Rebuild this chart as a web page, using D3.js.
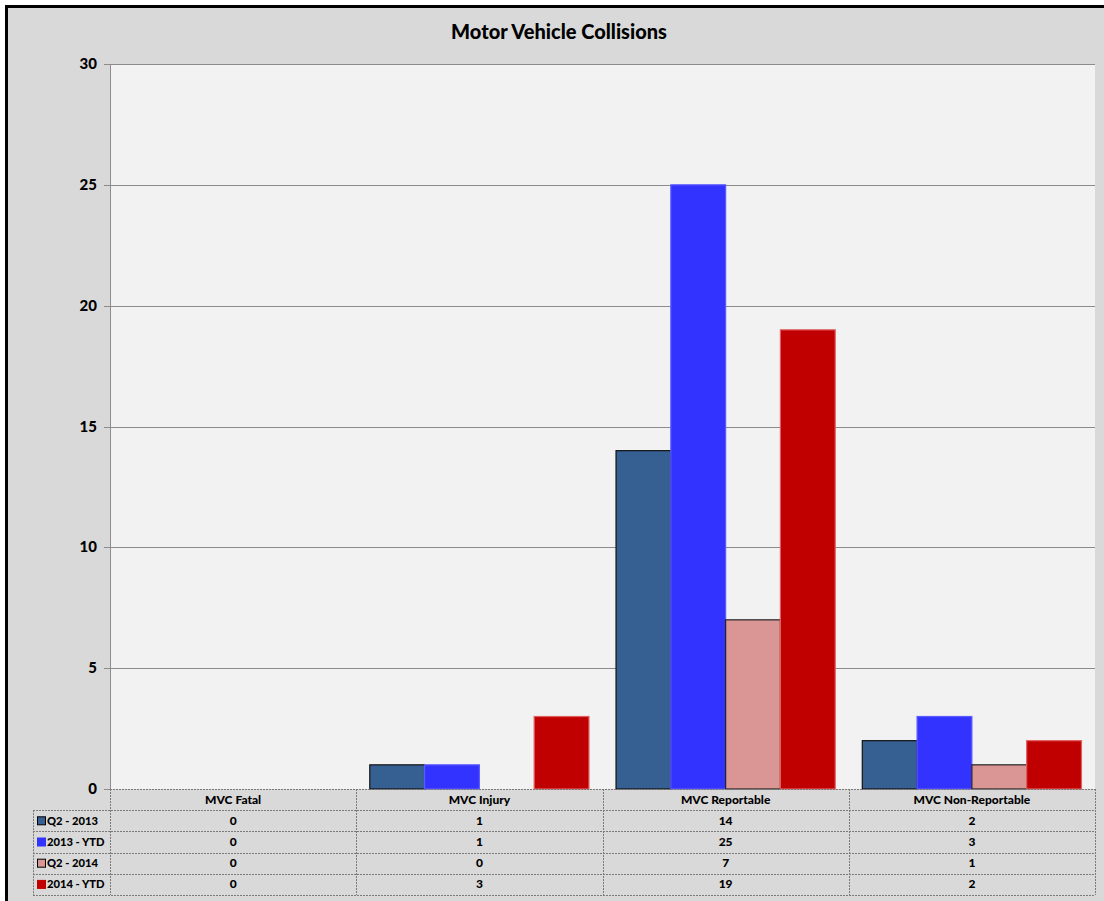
<!DOCTYPE html>
<html>
<head>
<meta charset="utf-8">
<script src="https://cdn.jsdelivr.net/npm/d3@7"></script>
<style>
  html, body { margin: 0; background: #d9d9d9; overflow: hidden; }
  svg { display: block; }
  svg text { font-family: Lato, "Open Sans", sans-serif; font-weight: 900; fill: #000; }
</style>
</head>
<body>
<div id="grafico"></div>
<script>
const categories = ["MVC Fatal", "MVC Injury", "MVC Reportable", "MVC Non-Reportable"];
const seriesNames = ["Q2 - 2013", "2013 - YTD", "Q2 - 2014", "2014 - YTD"];
const q2_2013 = [0, 1, 14, 2];
const ytd_2013 = [0, 1, 25, 3];
const q2_2014 = [0, 0, 7, 1];
const ytd_2014 = [0, 3, 19, 2];
const yTicks = [0, 5, 10, 15, 20, 25, 30];

const seriesValues = [q2_2013, ytd_2013, q2_2014, ytd_2014];
const fills = ["#366092", "#3333ff", "#da9694", "#c00000"];
const strokes = ["#111", "#5a5aff", "#222", "#e06060"];

const width = 1104, height = 901;
const plot = { left: 110, top: 64, right: 1095, bottom: 789 };
const rowH = 21.2;

const svg = d3.select('#grafico').append('svg')
    .attr('width', width)
    .attr('height', height);

// page white outside the frame, chart area grey
svg.append('rect')
    .attr('width', width).attr('height', height)
    .attr('fill', '#fff');
svg.append('rect')
    .attr('x', 5).attr('y', 5)
    .attr('width', width - 5).attr('height', height - 5)
    .attr('fill', '#d9d9d9');

// frame: only top and left edges are inside the picture
svg.append('path')
    .attr('d', 'M6.5,' + height + 'V6.5H' + width)
    .attr('fill', 'none')
    .attr('stroke', '#000')
    .attr('stroke-width', 3);

svg.append('text')
    .attr('x', 559).attr('y', 39)
    .attr('text-anchor', 'middle')
    .style('font-size', '20px')
    .text('Motor Vehicle Collisions');

// plot background
svg.append('rect')
    .attr('x', plot.left).attr('y', plot.top)
    .attr('width', plot.right - plot.left)
    .attr('height', plot.bottom - plot.top)
    .attr('fill', '#f2f2f2');

let y = d3.scaleLinear()
    .domain([0, 30])
    .range([plot.bottom, plot.top]);

let x0 = d3.scaleBand()
    .domain(categories)
    .range([plot.left, plot.right]);

const bw = x0.bandwidth();
let x1 = d3.scaleBand()
    .domain(seriesNames)
    .range([bw * 0.055, bw * 0.945]);

// gridlines
svg.append('g')
    .selectAll('line')
    .data(yTicks.filter(t => t > 0))
    .enter()
    .append('line')
    .attr('x1', plot.left - 6)
    .attr('x2', plot.right)
    .attr('y1', d => Math.round(y(d)) + 0.5)
    .attr('y2', d => Math.round(y(d)) + 0.5)
    .attr('stroke', '#8c8c8c')
    .attr('stroke-width', 1);

svg.append('line')
    .attr('x1', plot.left + 0.5).attr('x2', plot.left + 0.5)
    .attr('y1', plot.top).attr('y2', plot.bottom)
    .attr('stroke', '#8c8c8c');

svg.append('line')
    .attr('x1', plot.left - 6).attr('x2', plot.left)
    .attr('y1', plot.bottom + 0.5).attr('y2', plot.bottom + 0.5)
    .attr('stroke', '#8c8c8c');

svg.append('g')
    .selectAll('text')
    .data(yTicks)
    .enter()
    .append('text')
    .attr('x', 97)
    .attr('y', d => y(d) + 5)
    .attr('text-anchor', 'end')
    .style('font-size', '15px')
    .text(d => d);

// bars
let groups = svg.append('g')
    .selectAll('g')
    .data(categories)
    .enter()
    .append('g')
    .attr('transform', d => 'translate(' + x0(d) + ',0)');

groups.selectAll('rect')
    .data((c, ci) => seriesNames.map((s, si) => ({ s: s, si: si, v: seriesValues[si][ci] })))
    .enter()
    .filter(d => d.v > 0)
    .append('rect')
    .attr('x', d => x1(d.s))
    .attr('y', d => y(d.v))
    .attr('width', x1.bandwidth())
    .attr('height', d => y(0) - y(d.v))
    .attr('fill', d => fills[d.si])
    .attr('stroke', d => strokes[d.si])
    .attr('stroke-width', 1.2);

// data table
const legendLeft = 33;
const tableBottom = plot.bottom + rowH * 5;
const dash = '2,1';

let table = svg.append('g').attr('stroke', '#7a7a7a').attr('stroke-dasharray', dash);

// horizontal lines
table.selectAll('line.h')
    .data(d3.range(1, 6))
    .enter()
    .append('line')
    .attr('x1', legendLeft)
    .attr('x2', plot.right)
    .attr('y1', i => Math.round(plot.bottom + i * rowH) + 0.5)
    .attr('y2', i => Math.round(plot.bottom + i * rowH) + 0.5);

table.append('line')
    .attr('x1', plot.left).attr('x2', plot.right)
    .attr('y1', plot.bottom + 0.5).attr('y2', plot.bottom + 0.5);

// vertical lines
table.selectAll('line.v')
    .data(categories.map(c => x0(c)).concat([plot.right]))
    .enter()
    .append('line')
    .attr('x1', d => Math.round(d) + 0.5)
    .attr('x2', d => Math.round(d) + 0.5)
    .attr('y1', plot.bottom)
    .attr('y2', tableBottom);

table.append('line')
    .attr('x1', legendLeft + 0.5).attr('x2', legendLeft + 0.5)
    .attr('y1', plot.bottom + rowH).attr('y2', tableBottom);

// header labels
svg.append('g')
    .selectAll('text')
    .data(categories)
    .enter()
    .append('text')
    .attr('x', d => x0(d) + bw / 2)
    .attr('y', plot.bottom + rowH / 2 + 4)
    .attr('text-anchor', 'middle')
    .style('font-size', '12px')
    .text(d => d);

// rows
let rows = svg.append('g')
    .selectAll('g')
    .data(seriesNames)
    .enter()
    .append('g')
    .attr('transform', (d, i) => 'translate(0,' + (plot.bottom + (i + 1) * rowH) + ')');

rows.append('rect')
    .attr('x', legendLeft + 4.5)
    .attr('y', rowH / 2 - 4)
    .attr('width', 8)
    .attr('height', 8)
    .attr('fill', (d, i) => fills[i])
    .attr('stroke', (d, i) => (i === 0 || i === 2) ? '#000' : fills[i])
    .attr('stroke-width', 1);

rows.append('text')
    .attr('x', legendLeft + 14)
    .attr('y', rowH / 2 + 4)
    .style('font-size', '11.2px')
    .text(d => d);

rows.selectAll('text.val')
    .data((s, si) => categories.map((c, ci) => ({ c: c, v: seriesValues[si][ci] })))
    .enter()
    .append('text')
    .attr('x', d => x0(d.c) + bw / 2)
    .attr('y', rowH / 2 + 4)
    .attr('text-anchor', 'middle')
    .style('font-size', '12px')
    .text(d => d.v);
</script>
</body>
</html>
